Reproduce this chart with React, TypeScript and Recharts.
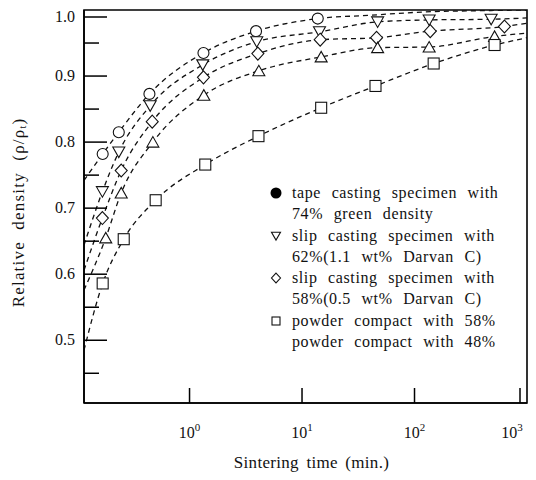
import React from "react";
import {
  ComposedChart,
  Line,
  Scatter,
  XAxis,
  YAxis,
  ReferenceArea,
} from "recharts";

// sintering time (min) vs relative density
const tapeTime = [0.169, 0.235, 0.44, 1.33, 3.9, 13.8];
const tapeDensity = [0.782, 0.815, 0.873, 0.935, 0.968, 0.987];

const slip62Time = [0.168, 0.235, 0.447, 1.31, 3.96, 14.3, 47, 135, 480];
const slip62Density = [0.725, 0.785, 0.855, 0.917, 0.952, 0.967, 0.982, 0.985, 0.986];

const slip58Time = [0.168, 0.247, 0.466, 1.33, 4.05, 14.5, 46, 138, 630];
const slip58Density = [0.685, 0.757, 0.831, 0.898, 0.934, 0.955, 0.958, 0.968, 0.975];

const powder58Time = [0.18, 0.247, 0.472, 1.34, 4.13, 14.8, 47, 135, 515];
const powder58Density = [0.655, 0.723, 0.8, 0.871, 0.908, 0.929, 0.943, 0.944, 0.96];

const powder48Time = [0.169, 0.26, 0.5, 1.38, 4.1, 14.8, 45, 148, 515];
const powder48Density = [0.586, 0.653, 0.712, 0.766, 0.809, 0.852, 0.885, 0.919, 0.947];

// where the dashed fit curves run on past the markers
const xMin = 0.1153;
const xMax = 1000;
const headDensity = [0.742, 0.644, 0.606, 0.576, 0.485]; // at xMin
const tapeTailTime = [40, 120, 400, 1000];
const tapeTailDensity = [0.992, 0.997, 0.999, 1.0];
const tailDensity = [0.988, 0.98, 0.965, 0.958]; // at xMax, slip62..powder48

const xTicks = [1, 10, 100, 1000];
const xTickExp = ["0", "1", "2", "3"];
const yTicks = [0.45, 0.5, 0.55, 0.6, 0.65, 0.7, 0.75, 0.8, 0.85, 0.9, 0.95, 1.0];

const legendRows = [
  { mark: "dot", lines: ["tape casting specimen with", "74% green density"] },
  { mark: "down", lines: ["slip casting specimen with", "62%(1.1 wt% Darvan C)"] },
  { mark: "diamond", lines: ["slip casting specimen with", "58%(0.5 wt% Darvan C)"] },
  { mark: "square", lines: ["powder compact with 58%"] },
  { mark: "", lines: ["powder compact with 48%"] },
];

const FONT = "'Liberation Serif', 'DejaVu Serif', serif";

const pts = (t: number[], d: number[]) => t.map((v, i) => ({ t: v, d: d[i] }));

const markData = [
  pts(tapeTime, tapeDensity),
  pts(slip62Time, slip62Density),
  pts(slip58Time, slip58Density),
  pts(powder58Time, powder58Density),
  pts(powder48Time, powder48Density),
];

const curveData = markData.map((m, i) => {
  const tail =
    i === 0 ? pts(tapeTailTime, tapeTailDensity) : [{ t: xMax, d: tailDensity[i - 1] }];
  return [{ t: xMin, d: headDensity[i] }, ...m, ...tail];
});

const stroke = { fill: "#fff", stroke: "#111", strokeWidth: 1.1 };

const Circle = (p: any) => <circle cx={p.cx} cy={p.cy} r={5.5} {...stroke} />;
const TriDown = (p: any) => {
  const s = p.s || 6;
  return (
    <path d={`M${p.cx - s},${p.cy - s * 0.83} L${p.cx + s},${p.cy - s * 0.83} L${p.cx},${p.cy + s * 0.92} Z`} {...stroke} />
  );
};
const TriUp = (p: any) => (
  <path d={`M${p.cx - 6},${p.cy + 5} L${p.cx + 6},${p.cy + 5} L${p.cx},${p.cy - 5.5} Z`} {...stroke} />
);
const Diamond = (p: any) => {
  const s = p.s || 6;
  return (
    <path d={`M${p.cx},${p.cy - s * 1.08} L${p.cx + s},${p.cy} L${p.cx},${p.cy + s * 1.08} L${p.cx - s},${p.cy} Z`} {...stroke} />
  );
};
const Square = (p: any) => {
  const s = p.s || 5.5;
  return <rect x={p.cx - s} y={p.cy - s} width={2 * s} height={2 * s} {...stroke} />;
};
const shapes = [Circle, TriDown, Diamond, TriUp, Square];

const YTick = (p: any) => {
  const v = p.payload.value;
  const major = Math.round(v * 100) % 10 === 0;
  return (
    <g>
      <line x1={p.x} x2={p.x + (major ? 23 : 15)} y1={p.y} y2={p.y} stroke="#000" strokeWidth={1.5} />
      {major && (
        <text x={p.x - 9} y={p.y + 5} textAnchor="end" fontSize={16} fontFamily={FONT} fill="#111">
          {v.toFixed(1)}
        </text>
      )}
    </g>
  );
};

const XTick = (p: any) => {
  const i = xTicks.indexOf(p.payload.value);
  const last = i === xTicks.length - 1;
  return (
    <g>
      <line x1={p.x} x2={p.x} y1={p.y} y2={p.y - 15} stroke="#000" strokeWidth={1.5} />
      <text
        x={last ? p.x - 8 : p.x}
        y={p.y + 35}
        textAnchor="middle"
        fontSize={16}
        fontFamily={FONT}
        fill="#111"
      >
        <tspan>10</tspan>
        <tspan dy={-7} fontSize={11}>{xTickExp[i]}</tspan>
      </text>
    </g>
  );
};

const LegendMark = ({ mark }: { mark: string }) => {
  const c = 8;
  return (
    <svg width={16} height={16} style={{ display: "block" }}>
      {mark === "dot" && <circle cx={c} cy={c} r={5.5} fill="#000" />}
      {mark === "down" && <TriDown cx={c} cy={c} s={4.5} />}
      {mark === "diamond" && <Diamond cx={c} cy={c} s={4.5} />}
      {mark === "square" && <Square cx={c} cy={c} s={4} />}
    </svg>
  );
};

export default function App() {
  return (
    <div style={{ position: "relative", width: 528, height: 472 }}>
      <ComposedChart
        width={528}
        height={472}
        margin={{ top: 2, right: 9, left: 0, bottom: 0 }}
        style={{ overflow: "visible" }}
      >
        <XAxis
          type="number"
          dataKey="t"
          scale="log"
          domain={[xMin, xMax]}
          allowDataOverflow
          ticks={xTicks}
          tick={<XTick />}
          tickSize={0}
          tickMargin={0}
          height={77}
          axisLine={{ stroke: "#000", strokeWidth: 1.6 }}
          label={{
            content: (p: any) => (
              <text
                x={p.viewBox.x + p.viewBox.width / 2 + 6}
                y={p.viewBox.y + 65}
                textAnchor="middle"
                fontSize={17}
                fontFamily={FONT}
                fill="#111"
                style={{ wordSpacing: 3, letterSpacing: 0.3 }}
              >
                Sintering time (min.)
              </text>
            ),
          }}
        />
        <YAxis
          type="number"
          dataKey="d"
          domain={[0.405, 1.0]}
          allowDataOverflow
          ticks={yTicks}
          tick={<YTick />}
          tickSize={0}
          tickMargin={0}
          width={76}
          axisLine={{ stroke: "#000", strokeWidth: 1.6 }}
          label={{
            content: (p: any) => {
              const cx = 10;
              const cy = p.viewBox.y + p.viewBox.height / 2 + 6;
              return (
                <text
                  transform={`translate(${cx},${cy}) rotate(-90)`}
                  textAnchor="middle"
                  dominantBaseline="central"
                  fontSize={17}
                  fontFamily={FONT}
                  fill="#111"
                  style={{ wordSpacing: 6, letterSpacing: 1.2 }}
                >
                  Relative density (ρ/ρ
                  <tspan dy={4} fontSize={10}>t</tspan>
                  <tspan dy={-4}>)</tspan>
                </text>
              );
            },
          }}
        />
        <ReferenceArea
          x1={xMin}
          x2={xMax}
          y1={0.405}
          y2={1.0}
          fill="none"
          stroke="#000"
          strokeWidth={1.6}
          ifOverflow="visible"
        />
        {curveData.map((c, i) => (
          <Line
            key={"c" + i}
            data={c}
            dataKey="d"
            type="monotone"
            stroke="#111"
            strokeWidth={1.3}
            strokeDasharray="5 4"
            dot={false}
            activeDot={false}
            isAnimationActive={false}
          />
        ))}
        {markData.map((m, i) => (
          <Scatter
            key={"m" + i}
            data={m}
            dataKey="d"
            shape={shapes[i]}
            isAnimationActive={false}
          />
        ))}
      </ComposedChart>
      <div
        style={{
          position: "absolute",
          left: 260,
          top: 174,
          fontFamily: FONT,
          fontSize: 16,
          lineHeight: "21.3px",
          color: "#111",
          wordSpacing: 6,
          letterSpacing: 0.6,
        }}
      >
        {legendRows.map((r, i) => (
          <div key={i} style={{ display: "flex" }}>
            <div style={{ width: 24, paddingTop: 3 }}>
              <LegendMark mark={r.mark} />
            </div>
            <div>
              {r.lines.map((l, j) => (
                <div key={j} style={{ whiteSpace: "nowrap" }}>{l}</div>
              ))}
            </div>
          </div>
        ))}
      </div>
    </div>
  );
}
